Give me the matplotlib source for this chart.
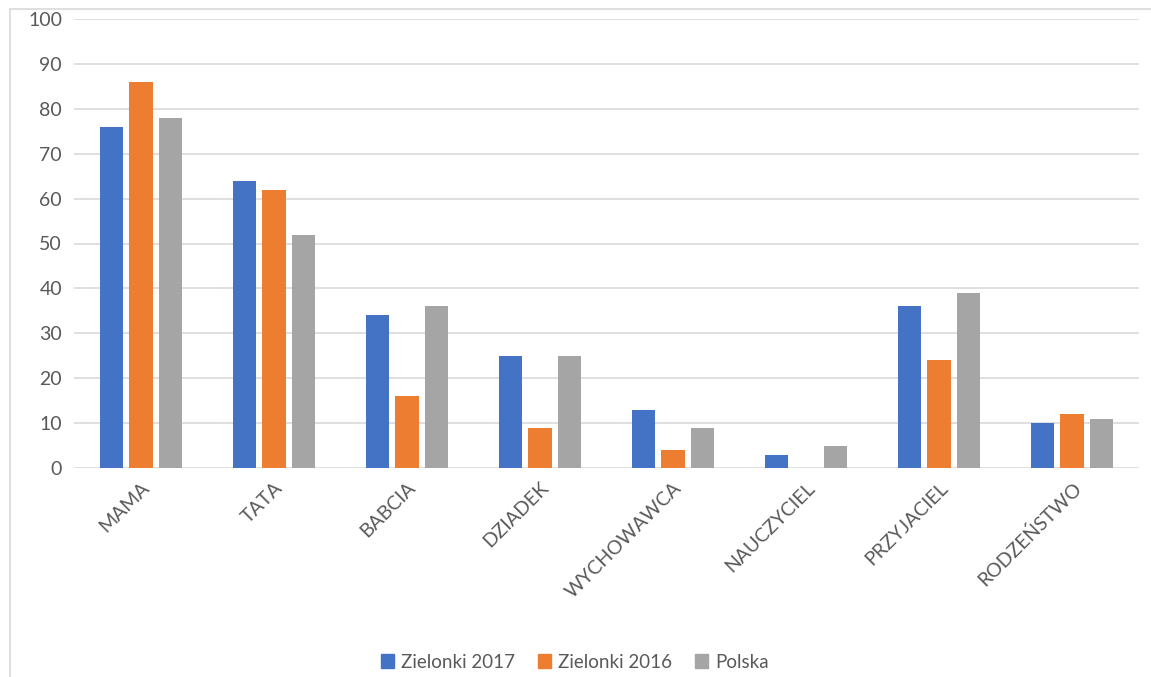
import numpy as np
import matplotlib
matplotlib.use("Agg")
from matplotlib import pyplot as plt
from matplotlib.patches import Rectangle, Patch

plt.rcParams["font.family"] = ["Lato", "DejaVu Sans"]

categories = ["MAMA", "TATA", "BABCIA", "DZIADEK", "WYCHOWAWCA",
              "NAUCZYCIEL", "PRZYJACIEL", "RODZEŃSTWO"]
zielonki_2017 = [76, 64, 34, 25, 13, 3, 36, 10]
zielonki_2016 = [86, 62, 16, 9, 4, 0, 24, 12]
polska = [78, 52, 36, 25, 9, 5, 39, 11]

series = [
    ("Zielonki 2017", zielonki_2017, "#4472C4"),
    ("Zielonki 2016", zielonki_2016, "#ED7D31"),
    ("Polska", polska, "#A5A5A5"),
]

W, H = 1151, 677
fig = plt.figure(figsize=(W / 100, H / 100), dpi=100)

# chart frame (partly cut off on the right/bottom)
fig.patches.append(Rectangle((10 / W, -0.1), 1.2, 1 - 9 / H + 0.1,
                             transform=fig.transFigure, fill=False,
                             edgecolor="#D9D9D9", linewidth=1.2))

ax = fig.add_axes([74.5 / W, (H - 468) / H, (1138.5 - 74.5) / W, (468 - 19) / H])

x = np.arange(len(categories))
width = 0.18
step = 0.222
for i, (name, vals, col) in enumerate(series):
    ax.bar(x + (i - 1) * step, vals, width, color=col, label=name, zorder=3)

ax.set_xlim(-0.5, len(categories) - 0.5)
ax.set_ylim(0, 100)
ax.set_yticks(range(0, 101, 10))
ax.grid(axis="y", color="#D9D9D9", linewidth=1.2, zorder=0)
for s in ax.spines.values():
    s.set_visible(False)
ax.tick_params(axis="both", length=0, labelsize=14, labelcolor="#595959")
ax.tick_params(axis="y", pad=9)
ax.set_xticks(x)
ax.set_xticklabels(categories, rotation=45, ha="right", rotation_mode="anchor")
ax.tick_params(axis="x", pad=8)

handles = [Patch(color=c, label=n) for n, _, c in series]
fig.legend(handles=handles, loc="center", bbox_to_anchor=(575 / W, 1 - 662 / H),
           ncol=3, frameon=False, fontsize=13.5, handlelength=0.7, handleheight=0.7,
           handletextpad=0.4, columnspacing=1.2, labelcolor="#595959")

fig.savefig("out.png", dpi=100)
